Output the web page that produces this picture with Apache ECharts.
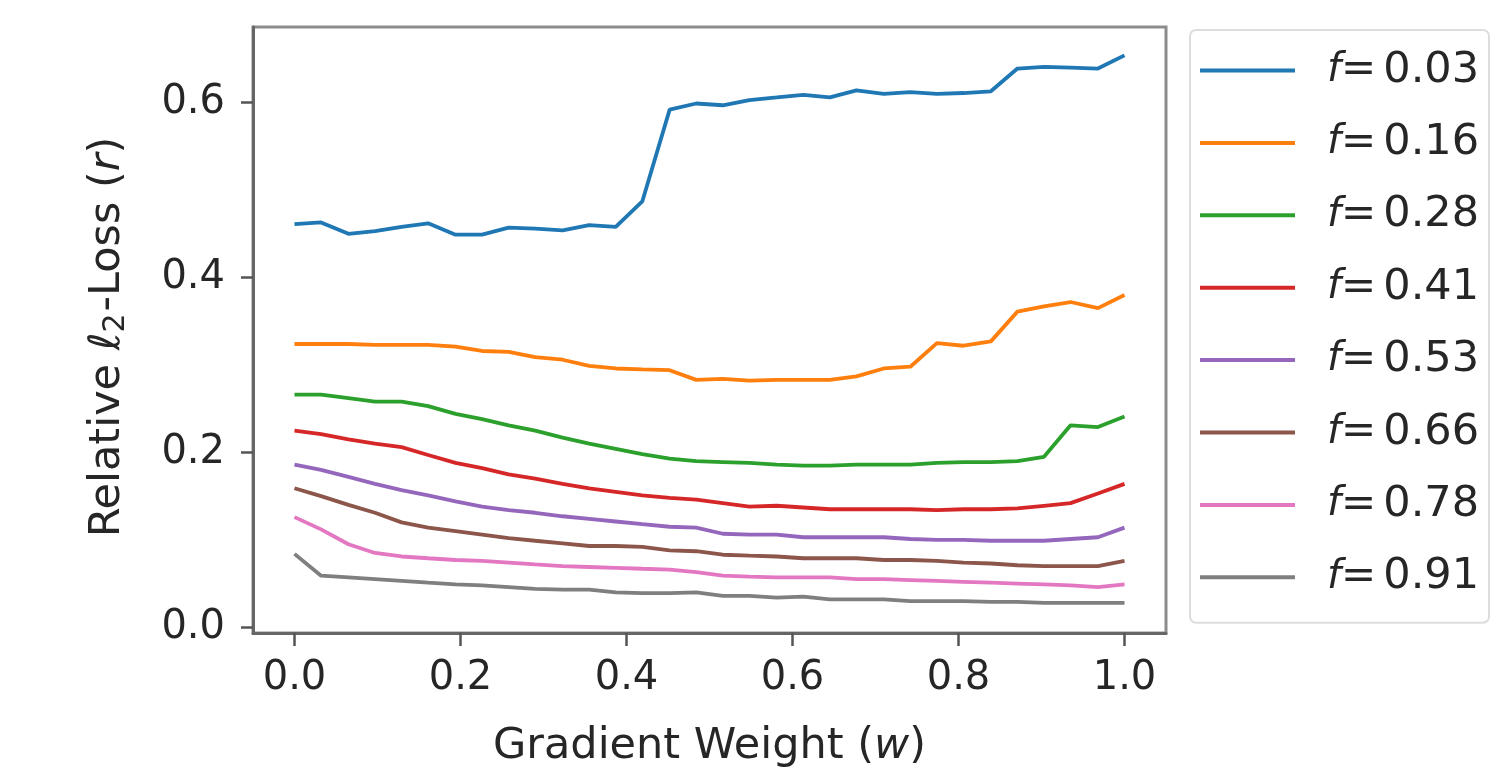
<!DOCTYPE html>
<html>
<head>
<meta charset="utf-8">
<script src="https://cdn.jsdelivr.net/npm/echarts@6/dist/echarts.min.js"></script>
<style>
  html, body { margin: 0; padding: 0; background: #fff; }
  #chart { width: 1512px; height: 776px; }
</style>
</head>
<body>
<div id="chart"></div>
<script>
// gradient weights w (32 samples)
const weights = [0, 0.032, 0.065, 0.097, 0.129, 0.161, 0.194, 0.226, 0.258, 0.290, 0.323, 0.355,
  0.387, 0.419, 0.452, 0.484, 0.516, 0.548, 0.581, 0.613, 0.645, 0.677, 0.710, 0.742,
  0.774, 0.806, 0.839, 0.871, 0.903, 0.935, 0.968, 1.0]

const seriesNames = ['f=0.03', 'f=0.16', 'f=0.28', 'f=0.41', 'f=0.53', 'f=0.66', 'f=0.78', 'f=0.91']

const lossF003 = [0.461, 0.463, 0.450, 0.453, 0.458, 0.462, 0.449, 0.449, 0.457, 0.456, 0.454, 0.460,
  0.458, 0.487, 0.592, 0.599, 0.597, 0.603, 0.606, 0.609, 0.606, 0.614, 0.610, 0.612,
  0.610, 0.611, 0.613, 0.639, 0.641, 0.640, 0.639, 0.654]
const lossF016 = [0.324, 0.324, 0.324, 0.323, 0.323, 0.323, 0.321, 0.316, 0.315, 0.309, 0.306, 0.299,
  0.296, 0.295, 0.294, 0.283, 0.284, 0.282, 0.283, 0.283, 0.283, 0.287, 0.296, 0.298,
  0.325, 0.322, 0.327, 0.361, 0.367, 0.372, 0.365, 0.380]
const lossF028 = [0.266, 0.266, 0.262, 0.258, 0.258, 0.253, 0.244, 0.238, 0.231, 0.225, 0.217, 0.210,
  0.204, 0.198, 0.193, 0.190, 0.189, 0.188, 0.186, 0.185, 0.185, 0.186, 0.186, 0.186,
  0.188, 0.189, 0.189, 0.190, 0.195, 0.231, 0.229, 0.241]
const lossF041 = [0.225, 0.221, 0.215, 0.210, 0.206, 0.197, 0.188, 0.182, 0.175, 0.170, 0.164, 0.159,
  0.155, 0.151, 0.148, 0.146, 0.142, 0.138, 0.139, 0.137, 0.135, 0.135, 0.135, 0.135,
  0.134, 0.135, 0.135, 0.136, 0.139, 0.142, 0.153, 0.164]
const lossF053 = [0.186, 0.180, 0.172, 0.164, 0.157, 0.151, 0.144, 0.138, 0.134, 0.131, 0.127, 0.124,
  0.121, 0.118, 0.115, 0.114, 0.107, 0.106, 0.106, 0.103, 0.103, 0.103, 0.103, 0.101,
  0.100, 0.100, 0.099, 0.099, 0.099, 0.101, 0.103, 0.114]
const lossF066 = [0.159, 0.150, 0.140, 0.131, 0.120, 0.114, 0.110, 0.106, 0.102, 0.099, 0.096, 0.093,
  0.093, 0.092, 0.088, 0.087, 0.083, 0.082, 0.081, 0.079, 0.079, 0.079, 0.077, 0.077,
  0.076, 0.074, 0.073, 0.071, 0.070, 0.070, 0.070, 0.076]
const lossF078 = [0.126, 0.112, 0.095, 0.085, 0.081, 0.079, 0.077, 0.076, 0.074, 0.072, 0.070, 0.069,
  0.068, 0.067, 0.066, 0.063, 0.059, 0.058, 0.057, 0.057, 0.057, 0.055, 0.055, 0.054,
  0.053, 0.052, 0.051, 0.050, 0.049, 0.048, 0.046, 0.049]
const lossF091 = [0.084, 0.059, 0.057, 0.055, 0.053, 0.051, 0.049, 0.048, 0.046, 0.044, 0.043, 0.043,
  0.040, 0.039, 0.039, 0.040, 0.036, 0.036, 0.034, 0.035, 0.032, 0.032, 0.032, 0.030,
  0.030, 0.030, 0.029, 0.029, 0.028, 0.028, 0.028, 0.028]

const xTicks = [0, 0.2, 0.4, 0.6, 0.8, 1.0]
const yTicks = [0, 0.2, 0.4, 0.6]

// matplotlib tab10
const colors = ['#1f77b4', '#ff7f0e', '#2ca02c', '#d62728', '#9467bd', '#8c564b', '#e377c2', '#7f7f7f']
const allLoss = [lossF003, lossF016, lossF028, lossF041, lossF053, lossF066, lossF078, lossF091]

const font = 'DejaVu Sans'
const textColor = '#262626'

const chart = echarts.init(document.getElementById('chart'))

chart.setOption({
  animation: false,
  color: colors,
  grid: {
    left: 253,
    right: 346,
    top: 27,
    bottom: 143,
    show: true,
    borderColor: '#8c8c8c',
    borderWidth: 3,
  },
  xAxis: {
    type: 'value',
    min: -0.05,
    max: 1.05,
    name: 'Gradient Weight ({it|w})',
    nameLocation: 'middle',
    nameGap: 92,
    nameTextStyle: {
      fontFamily: font,
      fontSize: 43,
      color: textColor,
      verticalAlign: 'top',
      rich: { it: { fontFamily: font, fontSize: 43, fontStyle: 'italic', color: textColor } },
    },
    axisLine: { show: true, onZero: false, lineStyle: { color: '#666', width: 3 } },
    axisTick: { show: true, length: 13, customValues: xTicks, lineStyle: { color: '#555', width: 2.5 } },
    axisLabel: {
      customValues: xTicks,
      margin: 26,
      fontFamily: font,
      fontSize: 40,
      color: textColor,
      formatter: v => v.toFixed(1),
    },
    splitLine: { show: false },
  },
  yAxis: {
    type: 'value',
    min: -0.0065,
    max: 0.6865,
    name: 'Relative {it|ℓ}{sub|2}-Loss ({it|r})',
    nameLocation: 'middle',
    nameGap: 122,
    nameTextStyle: {
      fontFamily: font,
      fontSize: 43,
      color: textColor,
      padding: [0, 14, 0, 0],
      rich: {
        it: { fontFamily: font, fontSize: 43, fontStyle: 'italic', color: textColor },
        sub: { fontFamily: font, fontSize: 30, color: textColor, padding: [16, 2, 0, 0] },
      },
    },
    axisLine: { show: true, onZero: false, lineStyle: { color: '#666', width: 3 } },
    axisTick: { show: true, length: 12, customValues: yTicks, lineStyle: { color: '#555', width: 2.5 } },
    axisLabel: {
      customValues: yTicks,
      margin: 28,
      fontFamily: font,
      fontSize: 40,
      color: textColor,
      formatter: v => v.toFixed(1),
    },
    splitLine: { show: false },
  },
  legend: {
    orient: 'vertical',
    left: 1190,
    top: 30,
    padding: [19, 10, 24, 10],
    itemGap: 29.4,
    itemWidth: 95,
    itemHeight: 4,
    icon: 'rect',
    backgroundColor: '#fff',
    borderColor: '#ddd',
    borderWidth: 2,
    borderRadius: 6,
    data: seriesNames,
    formatter: name => `{i|f}{e|=}{n|${name.slice(2)}}`,
    textStyle: {
      fontFamily: font,
      color: textColor,
      rich: {
        i: { fontFamily: font, fontSize: 40, fontStyle: 'italic', color: textColor, lineHeight: 42, padding: [0, 0, 0, 27] },
        e: { fontFamily: font, fontSize: 42, color: textColor, lineHeight: 42 },
        n: { fontFamily: font, fontSize: 43, color: textColor, lineHeight: 42, padding: [0, 0, 0, 7] },
      },
    },
  },
  series: allLoss.map((loss, k) => ({
    name: seriesNames[k],
    type: 'line',
    symbol: 'none',
    data: weights.map((w, i) => [w, loss[i]]),
    lineStyle: { width: 3.8, color: colors[k] },
    itemStyle: { color: colors[k] },
  })),
})
</script>
</body>
</html>
